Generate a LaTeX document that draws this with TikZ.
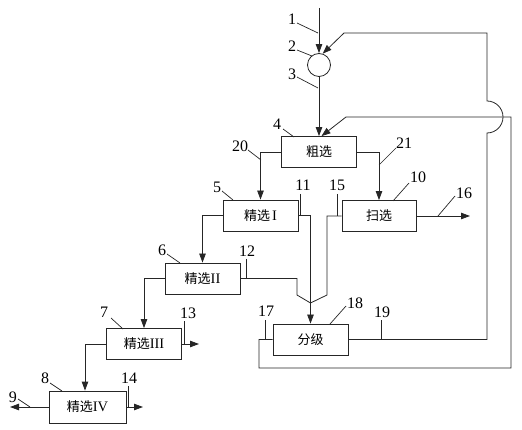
\documentclass[tikz,border=0pt]{standalone}
\usepackage{fontspec}
\setmainfont{Liberation Serif}
\newfontfamily\cjk{Noto Sans CJK SC}
\usetikzlibrary{arrows.meta,calc}
\newcommand{\rn}[1]{{\rmfamily\fontsize{14.5}{14.5}\selectfont #1}}
\begin{document}
\begin{tikzpicture}[x=1pt,y=-1pt,line width=0.8pt,draw=black!85,
  box/.style={draw,minimum width=75pt,minimum height=31pt,inner sep=0pt,font=\cjk\fontsize{13}{13}\selectfont},
  lbl/.style={font=\fontsize{16}{16}\selectfont,inner sep=0pt},
  arr/.style={-{Triangle[length=9pt,width=6.5pt]}},
  lead/.style={line width=0.7pt}]
\useasboundingbox (0,0) rectangle (522,430);
% units
\node[circle,draw,minimum size=23pt,inner sep=0pt] (mill) at (319,65) {};
\node[box] (cu) at (319,152) {粗选};
\node[box] (j1) at (260.5,215.5) {精选\,\rn{I}};
\node[box,minimum width=74pt] (sao) at (379,216) {扫选};
\node[box] (j2) at (202.5,278.5) {精选\rn{II}};
\node[box] (fj) at (310.5,339.5) {分级};
\node[box] (j3) at (144,344) {精选\rn{III}};
\node[box,minimum width=77pt,minimum height=32pt] (j4) at (87.5,407) {精选\rn{IV}};
% free ends
\coordinate (feed) at (319,8);
\coordinate (o16) at (470,216);
\coordinate (o13) at (199,344);
\coordinate (o14) at (143,407);
\coordinate (o9) at (10,407);
\coordinate (funnel) at (310.5,303);
% flows
\draw[arr] (feed) -- (mill.north);
\draw[arr] (mill.south) -- (cu.north);
\draw[arr] (fj.east) -- (487,339.5) -- (487,133) arc[start angle=90,end angle=-90,radius=16] -- (487,33) -- (344,33) -- (mill.72);
\draw[arr] (fj.west) -- (259,339.5) -- (259,368) -- (511,368) -- (511,117) -- (346,117) -- ([xshift=2.5pt]cu.north);
\draw[arr] (cu.west) -| (j1.north);
\draw[arr] (cu.east) -| (sao.north);
\draw[arr] (j1.west) -| (j2.north);
\draw[arr] (j2.west) -| (j3.north);
\draw[arr] (j3.west) -| ([xshift=-2.5pt]j4.north);
\draw[arr] (j1.east) -| (fj.north);
\draw (sao.west) -- (327,216) -- (327,295) -- (funnel);
\draw (j2.east) -- (297,278.5) -- (297,295) -- (funnel);
\draw[arr] (sao.east) -- (o16);
\draw[arr] (j3.east) -- (o13);
\draw[arr] (j4.east) -- (o14);
\draw[arr] (j4.west) -- (o9);
% labels
\node[lbl] (n1) at (292,19) {1};
\node[lbl] (n2) at (292,46) {2};
\node[lbl] (n3) at (292,74) {3};
\node[lbl] (n4) at (277,124) {4};
\node[lbl] (n20) at (240,146) {20};
\node[lbl] (n21) at (404,143) {21};
\node[lbl] (n5) at (217,187) {5};
\node[lbl] (n11) at (303,185) {11};
\node[lbl] (n15) at (337,185) {15};
\node[lbl] (n10) at (418,177) {10};
\node[lbl] (n16) at (464,193) {16};
\node[lbl] (n6) at (162,250) {6};
\node[lbl] (n12) at (247,251) {12};
\node[lbl] (n7) at (104,312) {7};
\node[lbl] (n13) at (188,313) {13};
\node[lbl] (n18) at (355,303) {18};
\node[lbl] (n19) at (382,312) {19};
\node[lbl] (n17) at (266,311) {17};
\node[lbl] (n8) at (45,378) {8};
\node[lbl] (n14) at (129,378) {14};
\node[lbl] (n9) at (13,397) {9};
% leaders
\draw[lead] (297,23) -- (318,33);
\draw[lead] (297,50) -- (312,56);
\draw[lead] (297,77) -- (318,88);
\draw[lead] (283,129) -- (294,137);
\draw[lead] (248,150) -- (261,160);
\draw[lead] (396,148) -- (379,165);
\draw[lead] (222,191) -- (233,200);
\draw[lead] (300,194) -- (300,215.5);
\draw[lead] (337,194) -- (337,216);
\draw[lead] (409,183) -- (393,201);
\draw[lead] (455,196) -- (438,216);
\draw[lead] (167,254) -- (180,263);
\draw[lead] (246,259) -- (246,278.5);
\draw[lead] (111,318) -- (123,329);
\draw[lead] (184,321) -- (184,344);
\draw[lead] (346,306) -- (330,324);
\draw[lead] (381,320) -- (381,339.5);
\draw[lead] (265,320) -- (265,339.5);
\draw[lead] (50,383) -- (62,391);
\draw[lead] (128,386) -- (128,407);
\draw[lead] (18,399) -- (30,407);
\end{tikzpicture}
\end{document}
